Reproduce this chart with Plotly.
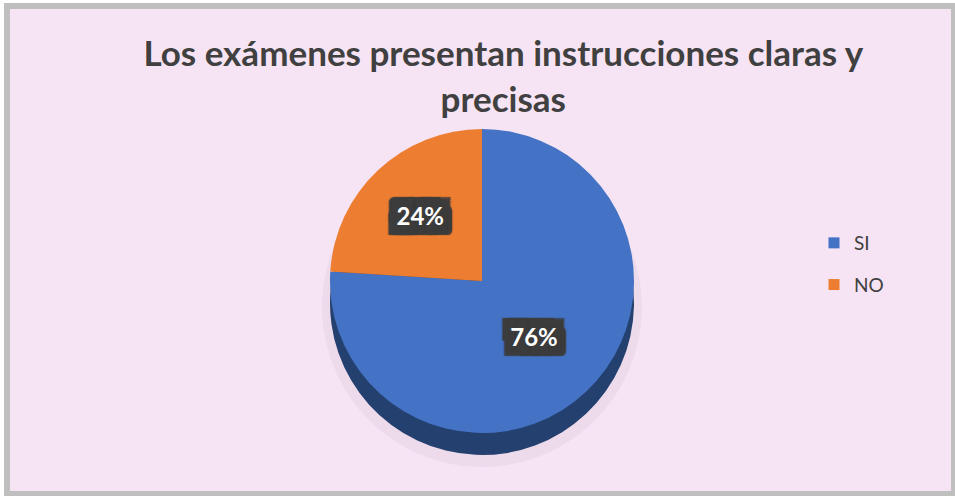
import plotly.graph_objects as go

labels = ["SI", "NO"]
values = [76, 24]
colors = ["#4472C4", "#ED7D31"]
side_colors = ["#24406F", "#8A4418"]
title_text = "Los exámenes presentan instrucciones claras y<br>precisas"

W, H = 955, 496

def px(x):
    return x / W

def py(y):
    return 1 - y / H

# pie geometry (layout only)
cx, cy, r, depth = 482, 281, 152, 22

shadow_parts = []
for dx in range(-9, 10, 3):
    for dy in range(-10, 11, 2):
        shadow_parts.append(f"{dx}px {dy}px 1px #3d3d3d")
shadow = ", ".join(shadow_parts)

fig = go.Figure()

# soft glow
fig.add_trace(go.Pie(
    labels=labels, values=values, sort=False, direction="clockwise",
    marker=dict(colors=["rgba(140,100,140,0.08)"] * 2, line=dict(width=0)),
    textinfo="none", hoverinfo="skip", showlegend=False,
    domain=dict(x=[px(cx - r - 8), px(cx + r + 8)], y=[py(cy + r + depth + 12), py(cy - r + depth - 4)]),
))
# side / depth
fig.add_trace(go.Pie(
    labels=labels, values=values, sort=False, direction="clockwise",
    marker=dict(colors=side_colors, line=dict(width=0)),
    textinfo="none", hoverinfo="skip", showlegend=False,
    domain=dict(x=[px(cx - r), px(cx + r)], y=[py(cy + r + depth), py(cy - r + depth)]),
))
# top face
fig.add_trace(go.Pie(
    labels=labels, values=values, sort=False, direction="clockwise",
    marker=dict(colors=colors, line=dict(width=0)),
    texttemplate="%{percent:.0%}", textposition="inside", insidetextorientation="horizontal",
    textfont=dict(family="Lato, Open Sans, sans-serif", size=24, color="white", weight="bold", shadow=shadow),
    showlegend=False,
    domain=dict(x=[px(cx - r), px(cx + r)], y=[py(cy + r), py(cy - r)]),
))

# legend entries
for lab, col in zip(labels, colors):
    fig.add_trace(go.Scatter(
        x=[None], y=[None], mode="markers", name=lab, legendgroup=lab,
        marker=dict(symbol="square", size=11, color=col), hoverinfo="skip",
    ))

fig.update_layout(
    width=W, height=H,
    margin=dict(l=0, r=0, t=0, b=0),
    paper_bgcolor="white",
    plot_bgcolor="rgba(0,0,0,0)",
    xaxis=dict(visible=False), yaxis=dict(visible=False),
    title=dict(text=title_text, x=0.527, xanchor="center", y=py(66), yanchor="top",
               font=dict(family="Lato, Open Sans, sans-serif", size=35, color="#404040", weight="bold")),
    legend=dict(x=px(814), y=py(264), xanchor="left", yanchor="middle",
                font=dict(family="Lato, Open Sans, sans-serif", size=19, color="#404040"),
                tracegroupgap=14, itemwidth=30,
                bgcolor="rgba(0,0,0,0)"),
    shapes=[
        dict(type="rect", xref="paper", yref="paper", x0=px(4), x1=1, y0=0, y1=py(3),
             fillcolor="#BFBFBF", line=dict(width=0), layer="below"),
        dict(type="rect", xref="paper", yref="paper", x0=px(10), x1=px(951), y0=py(491), y1=py(9),
             fillcolor="#F6E4F4", line=dict(width=0), layer="below"),
    ],
)

fig.write_html("out.html", config={"displayModeBar": False},
               post_script="document.body.style.margin='0';")
